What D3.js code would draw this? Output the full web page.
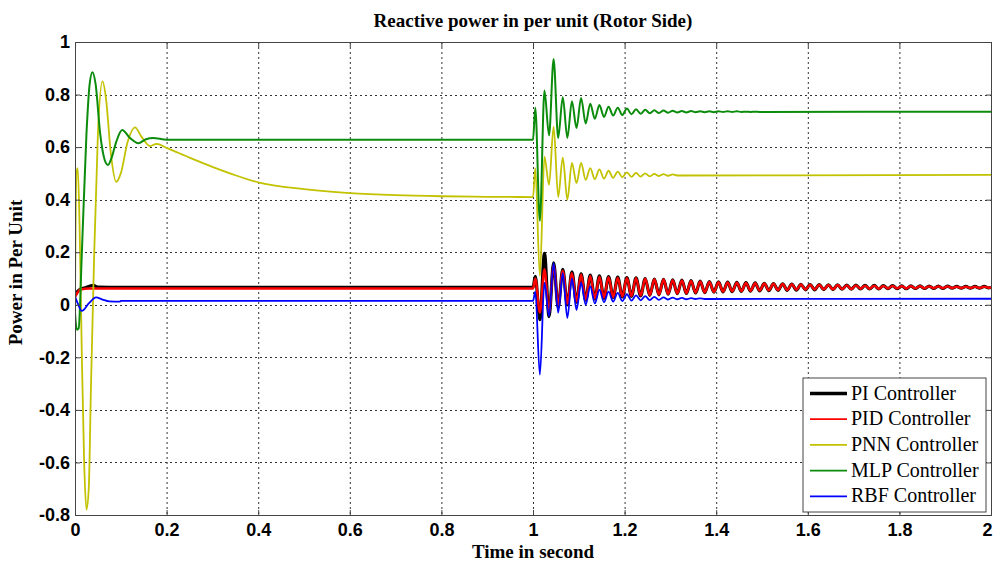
<!DOCTYPE html>
<html>
<head>
<meta charset="utf-8">
<script src="https://cdn.jsdelivr.net/npm/d3@7"></script>
<style>
  body { margin: 0; background: #fff; }
</style>
</head>
<body>
<div id="grafica"></div>
<script>
// ticks
var xTicks = [0, 0.2, 0.4, 0.6, 0.8, 1, 1.2, 1.4, 1.6, 1.8, 2];
var yTicks = [1, 0.8, 0.6, 0.4, 0.2, 0, -0.2, -0.4, -0.6, -0.8];

var names = ["PI Controller", "PID Controller", "PNN Controller", "MLP Controller", "RBF Controller"];

// before the disturbance at t = 1 s  [time, value]
var piPre = [[0, 0.035], [0.005, 0.05], [0.012, 0.06], [0.02, 0.064], [0.04, 0.074], [0.05, 0.067], [0.1, 0.066], [1.0, 0.066]];
var pidPre = [[0, 0.03], [0.005, 0.045], [0.012, 0.058], [0.03, 0.062], [0.1, 0.062], [1.0, 0.062]];
var pnnPre = [[0, 0.02], [0.003, 0.5], [0.006, 0.52], [0.01, 0.3], [0.015, -0.2], [0.02, -0.6], [0.025, -0.78],
  [0.03, -0.7], [0.035, -0.3], [0.042, 0.2], [0.05, 0.65], [0.06, 0.85], [0.068, 0.78], [0.078, 0.58],
  [0.09, 0.468], [0.1, 0.5], [0.115, 0.62], [0.131, 0.675], [0.145, 0.64], [0.164, 0.604], [0.178, 0.612],
  [0.2, 0.597], [0.25, 0.56], [0.3, 0.525], [0.35, 0.493], [0.4, 0.466], [0.5, 0.44], [0.6, 0.425],
  [0.7, 0.417], [0.8, 0.413], [0.9, 0.411], [1.0, 0.41]];
var mlpPre = [[0, -0.03], [0.004, -0.095], [0.008, -0.09], [0.015, 0.2], [0.025, 0.65], [0.032, 0.84],
  [0.038, 0.885], [0.045, 0.84], [0.055, 0.65], [0.065, 0.55], [0.072, 0.532], [0.08, 0.56], [0.09, 0.62],
  [0.103, 0.665], [0.12, 0.635], [0.138, 0.615], [0.155, 0.63], [0.17, 0.635], [0.2, 0.628], [1.0, 0.628]];
var rbfPre = [[0, 0.032], [0.006, 0.005], [0.015, -0.023], [0.03, 0.005], [0.046, 0.028], [0.06, 0.02],
  [0.075, 0.013], [0.098, 0.012], [0.1, 0.015], [1.0, 0.015]];

// times of the peaks and troughs after the disturbance
var tPost = [
  1.005, 1.015, 1.025, 1.035, 1.045, 1.055, 1.065, 1.075, 1.085, 1.095,
  1.105, 1.115, 1.125, 1.135, 1.145, 1.155, 1.165, 1.175, 1.185, 1.195,
  1.205, 1.215, 1.225, 1.235, 1.245, 1.255, 1.265, 1.275, 1.285, 1.295,
  1.305, 1.315, 1.325, 1.335, 1.345, 1.355, 1.365, 1.375, 1.385, 1.395,
  1.405, 1.415, 1.425, 1.435, 1.445, 1.455, 1.465, 1.475, 1.485, 1.495,
  1.505, 1.515, 1.525, 1.535, 1.545, 1.555, 1.565, 1.575, 1.585, 1.595,
  1.605, 1.615, 1.625, 1.635, 1.645, 1.655, 1.665, 1.675, 1.685, 1.695,
  1.705, 1.715, 1.725, 1.735, 1.745, 1.755, 1.765, 1.775, 1.785, 1.795,
  1.805, 1.815, 1.825, 1.835, 1.845, 1.855, 1.865, 1.875, 1.885, 1.895,
  1.905, 1.915, 1.925, 1.935, 1.945, 1.955, 1.965, 1.975, 1.985, 1.995];

var piPost = [
  0.108, -0.057, 0.196, -0.045, 0.16, -0.01, 0.135, 0.0, 0.125, 0.01,
  0.118, 0.018, 0.113, 0.022, 0.11, 0.025, 0.107, 0.028, 0.105, 0.03,
  0.103, 0.032, 0.102, 0.034, 0.1, 0.036, 0.098, 0.038, 0.097, 0.04,
  0.095, 0.042, 0.094, 0.043, 0.092, 0.045, 0.09, 0.046, 0.088, 0.048,
  0.087, 0.049, 0.086, 0.05, 0.085, 0.051, 0.084, 0.052, 0.083, 0.053,
  0.082, 0.054, 0.081, 0.055, 0.08, 0.055, 0.079, 0.056, 0.078, 0.057,
  0.077, 0.057, 0.077, 0.058, 0.076, 0.058, 0.076, 0.059, 0.075, 0.059,
  0.075, 0.06, 0.074, 0.06, 0.074, 0.06, 0.073, 0.061, 0.073, 0.061,
  0.072, 0.061, 0.072, 0.062, 0.072, 0.062, 0.071, 0.062, 0.071, 0.062,
  0.071, 0.063, 0.07, 0.063, 0.07, 0.063, 0.07, 0.063, 0.07, 0.064];
var pidPost = [
  0.10, -0.03, 0.135, -0.03, 0.15, 0.0, 0.13, 0.005, 0.12, 0.013,
  0.115, 0.02, 0.11, 0.024, 0.107, 0.027, 0.105, 0.029, 0.103, 0.031,
  0.102, 0.033, 0.101, 0.035, 0.099, 0.037, 0.097, 0.039, 0.096, 0.041,
  0.094, 0.043, 0.093, 0.044, 0.091, 0.046, 0.089, 0.047, 0.087, 0.049,
  0.086, 0.05, 0.085, 0.051, 0.084, 0.052, 0.083, 0.053, 0.082, 0.054,
  0.081, 0.055, 0.08, 0.056, 0.079, 0.056, 0.078, 0.057, 0.077, 0.058,
  0.076, 0.058, 0.076, 0.059, 0.075, 0.059, 0.075, 0.06, 0.074, 0.06,
  0.074, 0.061, 0.073, 0.061, 0.073, 0.061, 0.072, 0.062, 0.072, 0.062,
  0.071, 0.062, 0.071, 0.063, 0.071, 0.063, 0.07, 0.063, 0.07, 0.063,
  0.07, 0.064, 0.069, 0.064, 0.069, 0.064, 0.069, 0.064, 0.069, 0.065];
var pnnPost = [
  0.52, 0.11, 0.564, 0.456, 0.678, 0.41, 0.56, 0.40, 0.54, 0.463,
  0.54, 0.475, 0.52, 0.478, 0.515, 0.48, 0.51, 0.483, 0.507, 0.485,
  0.504, 0.487, 0.502, 0.488, 0.5, 0.489, 0.498, 0.49, 0.497, 0.491,
  0.496, 0.492];
var mlpPost = [
  0.75, 0.32, 0.815, 0.645, 0.935, 0.635, 0.79, 0.635, 0.775, 0.673,
  0.787, 0.69, 0.765, 0.708, 0.76, 0.715, 0.754, 0.72, 0.75, 0.722,
  0.747, 0.725, 0.744, 0.727, 0.742, 0.729, 0.74, 0.73, 0.739, 0.731,
  0.738, 0.732, 0.737, 0.732, 0.737, 0.733, 0.736, 0.733, 0.736, 0.733,
  0.736, 0.734, 0.736, 0.734, 0.736, 0.734, 0.735, 0.734, 0.735, 0.734];
var rbfPost = [
  0.05, -0.266, 0.084, -0.044, 0.158, -0.03, 0.12, -0.05, 0.10, -0.02,
  0.084, 0.0, 0.07, 0.005, 0.058, 0.01, 0.05, 0.012, 0.045, 0.014,
  0.04, 0.016, 0.036, 0.017, 0.033, 0.018, 0.03, 0.019, 0.028, 0.02,
  0.027, 0.021, 0.026, 0.021, 0.025, 0.022, 0.024, 0.022];

// final settled values at t = 2 s
var piEnd = 0.066, pidEnd = 0.066, pnnEnd = 0.494, mlpEnd = 0.735, rbfEnd = 0.023;

var colors = ["#000000", "#ff0000", "#c2c200", "#0c8c0c", "#0000ff"];
var widths = [3.2, 2.4, 1.8, 2, 1.8];

function buildSeries(pre, post, fin) {
  var pts = pre.slice();
  post.forEach(function(v, i) { pts.push([tPost[i], v]); });
  pts.push([2, fin]);
  return pts;
}

var series = [
  buildSeries(piPre, piPost, piEnd),
  buildSeries(pidPre, pidPost, pidEnd),
  buildSeries(pnnPre, pnnPost, pnnEnd),
  buildSeries(mlpPre, mlpPost, mlpEnd),
  buildSeries(rbfPre, rbfPost, rbfEnd)
];

var W = 993, H = 563;
var margin = { top: 42, right: 2, bottom: 48, left: 75 };
var w = W - margin.left - margin.right,
    h = H - margin.top - margin.bottom;

var svg = d3.select("#grafica").append("svg")
    .attr("width", W)
    .attr("height", H)
    .style("display", "block");

var g = svg.append("g")
    .attr("transform", "translate(" + margin.left + "," + margin.top + ")");

var x = d3.scaleLinear().domain([0, 2]).range([0, w]);
var y = d3.scaleLinear().domain([-0.8, 1]).range([h, 0]);

// grid
g.selectAll(".gx").data(xTicks.slice(1, -1)).enter().append("line")
    .attr("x1", function(d) { return x(d) + 0.5; })
    .attr("x2", function(d) { return x(d) + 0.5; })
    .attr("y1", 0).attr("y2", h)
    .attr("stroke", "#333").attr("stroke-width", 1)
    .attr("stroke-dasharray", "2,3");
g.selectAll(".gy").data(yTicks.slice(1, -1)).enter().append("line")
    .attr("y1", function(d) { return Math.round(y(d)) + 0.5; })
    .attr("y2", function(d) { return Math.round(y(d)) + 0.5; })
    .attr("x1", 0).attr("x2", w)
    .attr("stroke", "#333").attr("stroke-width", 1)
    .attr("stroke-dasharray", "2,3");

// lines
var line = d3.line()
    .x(function(d) { return x(d[0]); })
    .y(function(d) { return y(d[1]); })
    .curve(d3.curveMonotoneX);

g.append("clipPath").attr("id", "clip").append("rect")
    .attr("width", w).attr("height", h);

series.forEach(function(s, i) {
  g.append("path")
      .datum(s)
      .attr("clip-path", "url(#clip)")
      .attr("fill", "none")
      .attr("stroke", colors[i])
      .attr("stroke-width", widths[i])
      .attr("stroke-linejoin", "round")
      .attr("d", line);
});

// axes
var xAxis = g.append("g")
    .attr("transform", "translate(0," + h + ")")
    .call(d3.axisBottom(x).tickValues(xTicks).tickSize(-5).tickPadding(8)
      .tickFormat(function(d) { return String(d); }));
var yAxis = g.append("g")
    .call(d3.axisLeft(y).tickValues(yTicks).tickSize(-5).tickPadding(5)
      .tickFormat(function(d) { return String(d); }));
var xTop = g.append("g")
    .call(d3.axisTop(x).tickValues(xTicks).tickSize(-5).tickFormat(""));
var yRight = g.append("g")
    .attr("transform", "translate(" + w + ",0)")
    .call(d3.axisRight(y).tickValues(yTicks).tickSize(-5).tickFormat(""));

[xAxis, yAxis, xTop, yRight].forEach(function(a) {
  a.select(".domain").attr("stroke", "#444");
  a.selectAll(".tick line").attr("stroke", "#444");
  a.selectAll("text")
      .attr("fill", "#000")
      .style("font-family", "'Liberation Sans', Arial, sans-serif")
      .style("font-weight", "bold")
      .style("font-size", "18px");
});
// last label kept inside the right edge
xAxis.selectAll(".tick text").filter(function(d) { return d == 2; })
    .attr("text-anchor", "end").attr("dx", "1");

// titles
svg.append("text")
    .attr("x", margin.left + w / 2).attr("y", 27)
    .attr("text-anchor", "middle")
    .style("font-family", "'Liberation Serif', 'Times New Roman', serif")
    .style("font-weight", "bold").style("font-size", "19px")
    .text("Reactive power in per unit (Rotor Side)");

svg.append("text")
    .attr("x", margin.left + w / 2).attr("y", 558)
    .attr("text-anchor", "middle")
    .style("font-family", "'Liberation Serif', 'Times New Roman', serif")
    .style("font-weight", "bold").style("font-size", "19px")
    .text("Time in second");

svg.append("text")
    .attr("transform", "translate(22," + (margin.top + h / 2 - 6) + ") rotate(-90)")
    .attr("text-anchor", "middle")
    .style("font-family", "'Liberation Serif', 'Times New Roman', serif")
    .style("font-weight", "bold").style("font-size", "19px")
    .text("Power in Per Unit");

// legend
var leg = svg.append("g").attr("transform", "translate(803,378)");
leg.append("rect")
    .attr("width", 183).attr("height", 134)
    .attr("fill", "#fff").attr("stroke", "#444").attr("stroke-width", 1);
names.forEach(function(n, i) {
  var yy = 15.5 + i * 25.7;
  leg.append("line")
      .attr("x1", 7).attr("x2", 44).attr("y1", yy).attr("y2", yy)
      .attr("stroke", colors[i]).attr("stroke-width", i == 0 ? 3.5 : 1.8);
  leg.append("text")
      .attr("x", 48).attr("y", yy + 6)
      .style("font-family", "'Liberation Serif', 'Times New Roman', serif")
      .style("font-size", "20px")
      .text(n);
});
</script>
</body>
</html>
